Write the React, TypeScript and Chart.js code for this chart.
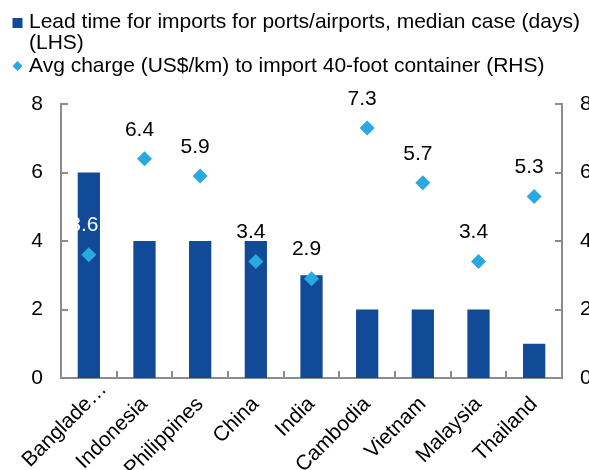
import React, { useEffect, useRef } from "react";
import { Chart, registerables } from "chart.js";

Chart.register(...registerables);

const categories = ["Banglade…", "Indonesia", "Philippines", "China", "India", "Cambodia", "Vietnam", "Malaysia", "Thailand"];
const leadTimeDays = [6, 4, 4, 4, 3, 2, 2, 2, 1];
const avgCharge = [3.6, 6.4, 5.9, 3.4, 2.9, 7.3, 5.7, 3.4, 5.3];
const axisTicks = [0, 2, 4, 6, 8];
const seriesLabels = [
  "Lead time for imports for ports/airports, median case (days) (LHS)",
  "Avg charge (US$/km) to import 40-foot container (RHS)",
];

const FONT = '"Liberation Sans", Arial, sans-serif';
const FONT_SIZE = 21;
const BAR_COLOR = "#114B97";
const DOT_COLOR = "#29A9E1";
const AXIS_COLOR = "#8C8C8C";

const legendPlugin = {
  id: "customLegend",
  afterDraw(chart: any) {
    const ctx = chart.ctx;
    ctx.save();
    ctx.font = `${FONT_SIZE}px ${FONT}`;
    ctx.fillStyle = "#000";
    ctx.textBaseline = "middle";
    ctx.textAlign = "left";
    const textX = 29;
    const maxW = chart.width - textX;
    let y = 22;
    chart.data.datasets.forEach((ds: any, di: number) => {
      if (di === 0) {
        ctx.fillStyle = BAR_COLOR;
        ctx.fillRect(12.5, y - 4, 10, 10);
      } else {
        ctx.fillStyle = DOT_COLOR;
        ctx.beginPath();
        ctx.moveTo(17.5, y - 5);
        ctx.lineTo(22.5, y);
        ctx.lineTo(17.5, y + 5);
        ctx.lineTo(12.5, y);
        ctx.closePath();
        ctx.fill();
      }
      ctx.fillStyle = "#000";
      const words = String(ds.label).split(" ");
      let line = "";
      const lines: string[] = [];
      words.forEach((w) => {
        const test = line ? line + " " + w : w;
        if (ctx.measureText(test).width > maxW && line) {
          lines.push(line);
          line = w;
        } else line = test;
      });
      if (line) lines.push(line);
      lines.forEach((l, li) => {
        ctx.fillText(l, textX, y + li * 21.5);
      });
      y += (lines.length - 1) * 21.5 + 22.5;
    });
    ctx.restore();
  },
};

const tickPlugin = {
  id: "inwardTicks",
  afterDatasetsDraw(chart: any) {
    const ctx = chart.ctx;
    const { x, y, y1 } = chart.scales;
    const len = 7;
    ctx.save();
    ctx.strokeStyle = AXIS_COLOR;
    ctx.lineWidth = 2;
    ctx.beginPath();
    for (let i = 0; i < categories.length - 1; i++) {
      const bx = Math.round((x.getPixelForValue(i) + x.getPixelForValue(i + 1)) / 2);
      ctx.moveTo(bx, y.bottom);
      ctx.lineTo(bx, y.bottom - len);
    }
    axisTicks.forEach((v) => {
      const py = Math.round(y.getPixelForValue(v));
      ctx.moveTo(y.right, py);
      ctx.lineTo(y.right + len, py);
      const py1 = Math.round(y1.getPixelForValue(v));
      ctx.moveTo(y1.left, py1);
      ctx.lineTo(y1.left - len, py1);
    });
    ctx.stroke();
    ctx.restore();
  },
};

const xLabelPlugin = {
  id: "xLabels",
  afterDraw(chart: any) {
    const ctx = chart.ctx;
    const xs = chart.scales.x;
    ctx.save();
    ctx.font = `${FONT_SIZE}px ${FONT}`;
    ctx.fillStyle = "#000";
    ctx.textBaseline = "alphabetic";
    ctx.textAlign = "left";
    categories.forEach((label, i) => {
      const cx = xs.getPixelForValue(i);
      const anchorText = label.replace(/…$/, "");
      const w = ctx.measureText(anchorText).width;
      ctx.save();
      ctx.translate(cx + 4, xs.top + 27);
      ctx.rotate(-Math.PI / 4);
      ctx.fillText(label, -w, 0);
      ctx.restore();
    });
    ctx.restore();
  },
};

const valueLabelPlugin = {
  id: "valueLabels",
  afterDatasetsDraw(chart: any) {
    const ctx = chart.ctx;
    const meta = chart.getDatasetMeta(1);
    const barMeta = chart.getDatasetMeta(0);
    ctx.save();
    ctx.font = `${FONT_SIZE}px ${FONT}`;
    ctx.textAlign = "center";
    ctx.textBaseline = "middle";
    meta.data.forEach((pt: any, i: number) => {
      const lx = pt.x - 5;
      const ly = pt.y - 29;
      const bar = barMeta.data[i];
      ctx.fillStyle = bar && ly > bar.y ? "#FFFFFF" : "#000000";
      ctx.fillText(avgCharge[i].toFixed(1), lx, ly);
    });
    ctx.restore();
  },
};

export default function App() {
  const ref = useRef<HTMLCanvasElement>(null);
  useEffect(() => {
    document.body.style.margin = "0";
    const chart = new Chart(ref.current!, {
      type: "bar",
      data: {
        labels: categories,
        datasets: [
          {
            type: "bar",
            label: seriesLabels[0],
            data: leadTimeDays,
            backgroundColor: BAR_COLOR,
            yAxisID: "y",
            barPercentage: 0.4,
            categoryPercentage: 1,
            order: 2,
          },
          {
            type: "line",
            label: seriesLabels[1],
            data: avgCharge,
            yAxisID: "y1",
            showLine: false,
            pointStyle: "rectRot",
            pointRadius: 7.5,
            pointBackgroundColor: DOT_COLOR,
            pointBorderColor: DOT_COLOR,
            pointBorderWidth: 0,
            order: 1,
          } as any,
        ],
      },
      options: {
        animation: false,
        responsive: false,
        devicePixelRatio: 1,
        layout: { padding: { top: 104, left: 0, right: 0, bottom: 0 } },
        plugins: { legend: { display: false }, tooltip: { enabled: false }, title: { display: false } },
        scales: {
          x: {
            offset: true,
            grid: { display: false, drawTicks: false },
            border: { display: true, color: AXIS_COLOR, width: 2 },
            ticks: { display: false },
            afterFit(scale: any) {
              scale.height = 92;
              scale.paddingLeft = 0;
              scale.paddingRight = 0;
            },
          },
          y: {
            position: "left",
            min: 0,
            max: 8,
            grid: { display: false, drawTicks: false },
            border: { display: true, color: AXIS_COLOR, width: 2 },
            ticks: { stepSize: 2, color: "#000", font: { family: FONT, size: FONT_SIZE }, padding: 18 },
            afterFit(scale: any) {
              scale.width = 61;
            },
          },
          y1: {
            position: "right",
            min: 0,
            max: 8,
            grid: { display: false, drawTicks: false },
            border: { display: true, color: AXIS_COLOR, width: 2 },
            ticks: { stepSize: 2, color: "#000", font: { family: FONT, size: FONT_SIZE }, padding: 18 },
            afterFit(scale: any) {
              scale.width = 27;
            },
          },
        },
      },
      plugins: [legendPlugin, tickPlugin, xLabelPlugin, valueLabelPlugin],
    });
    return () => chart.destroy();
  }, []);
  return (
    <div style={{ position: "absolute", left: 0, top: 0, width: 589, height: 470 }}>
      <canvas ref={ref} width={589} height={470} />
    </div>
  );
}
